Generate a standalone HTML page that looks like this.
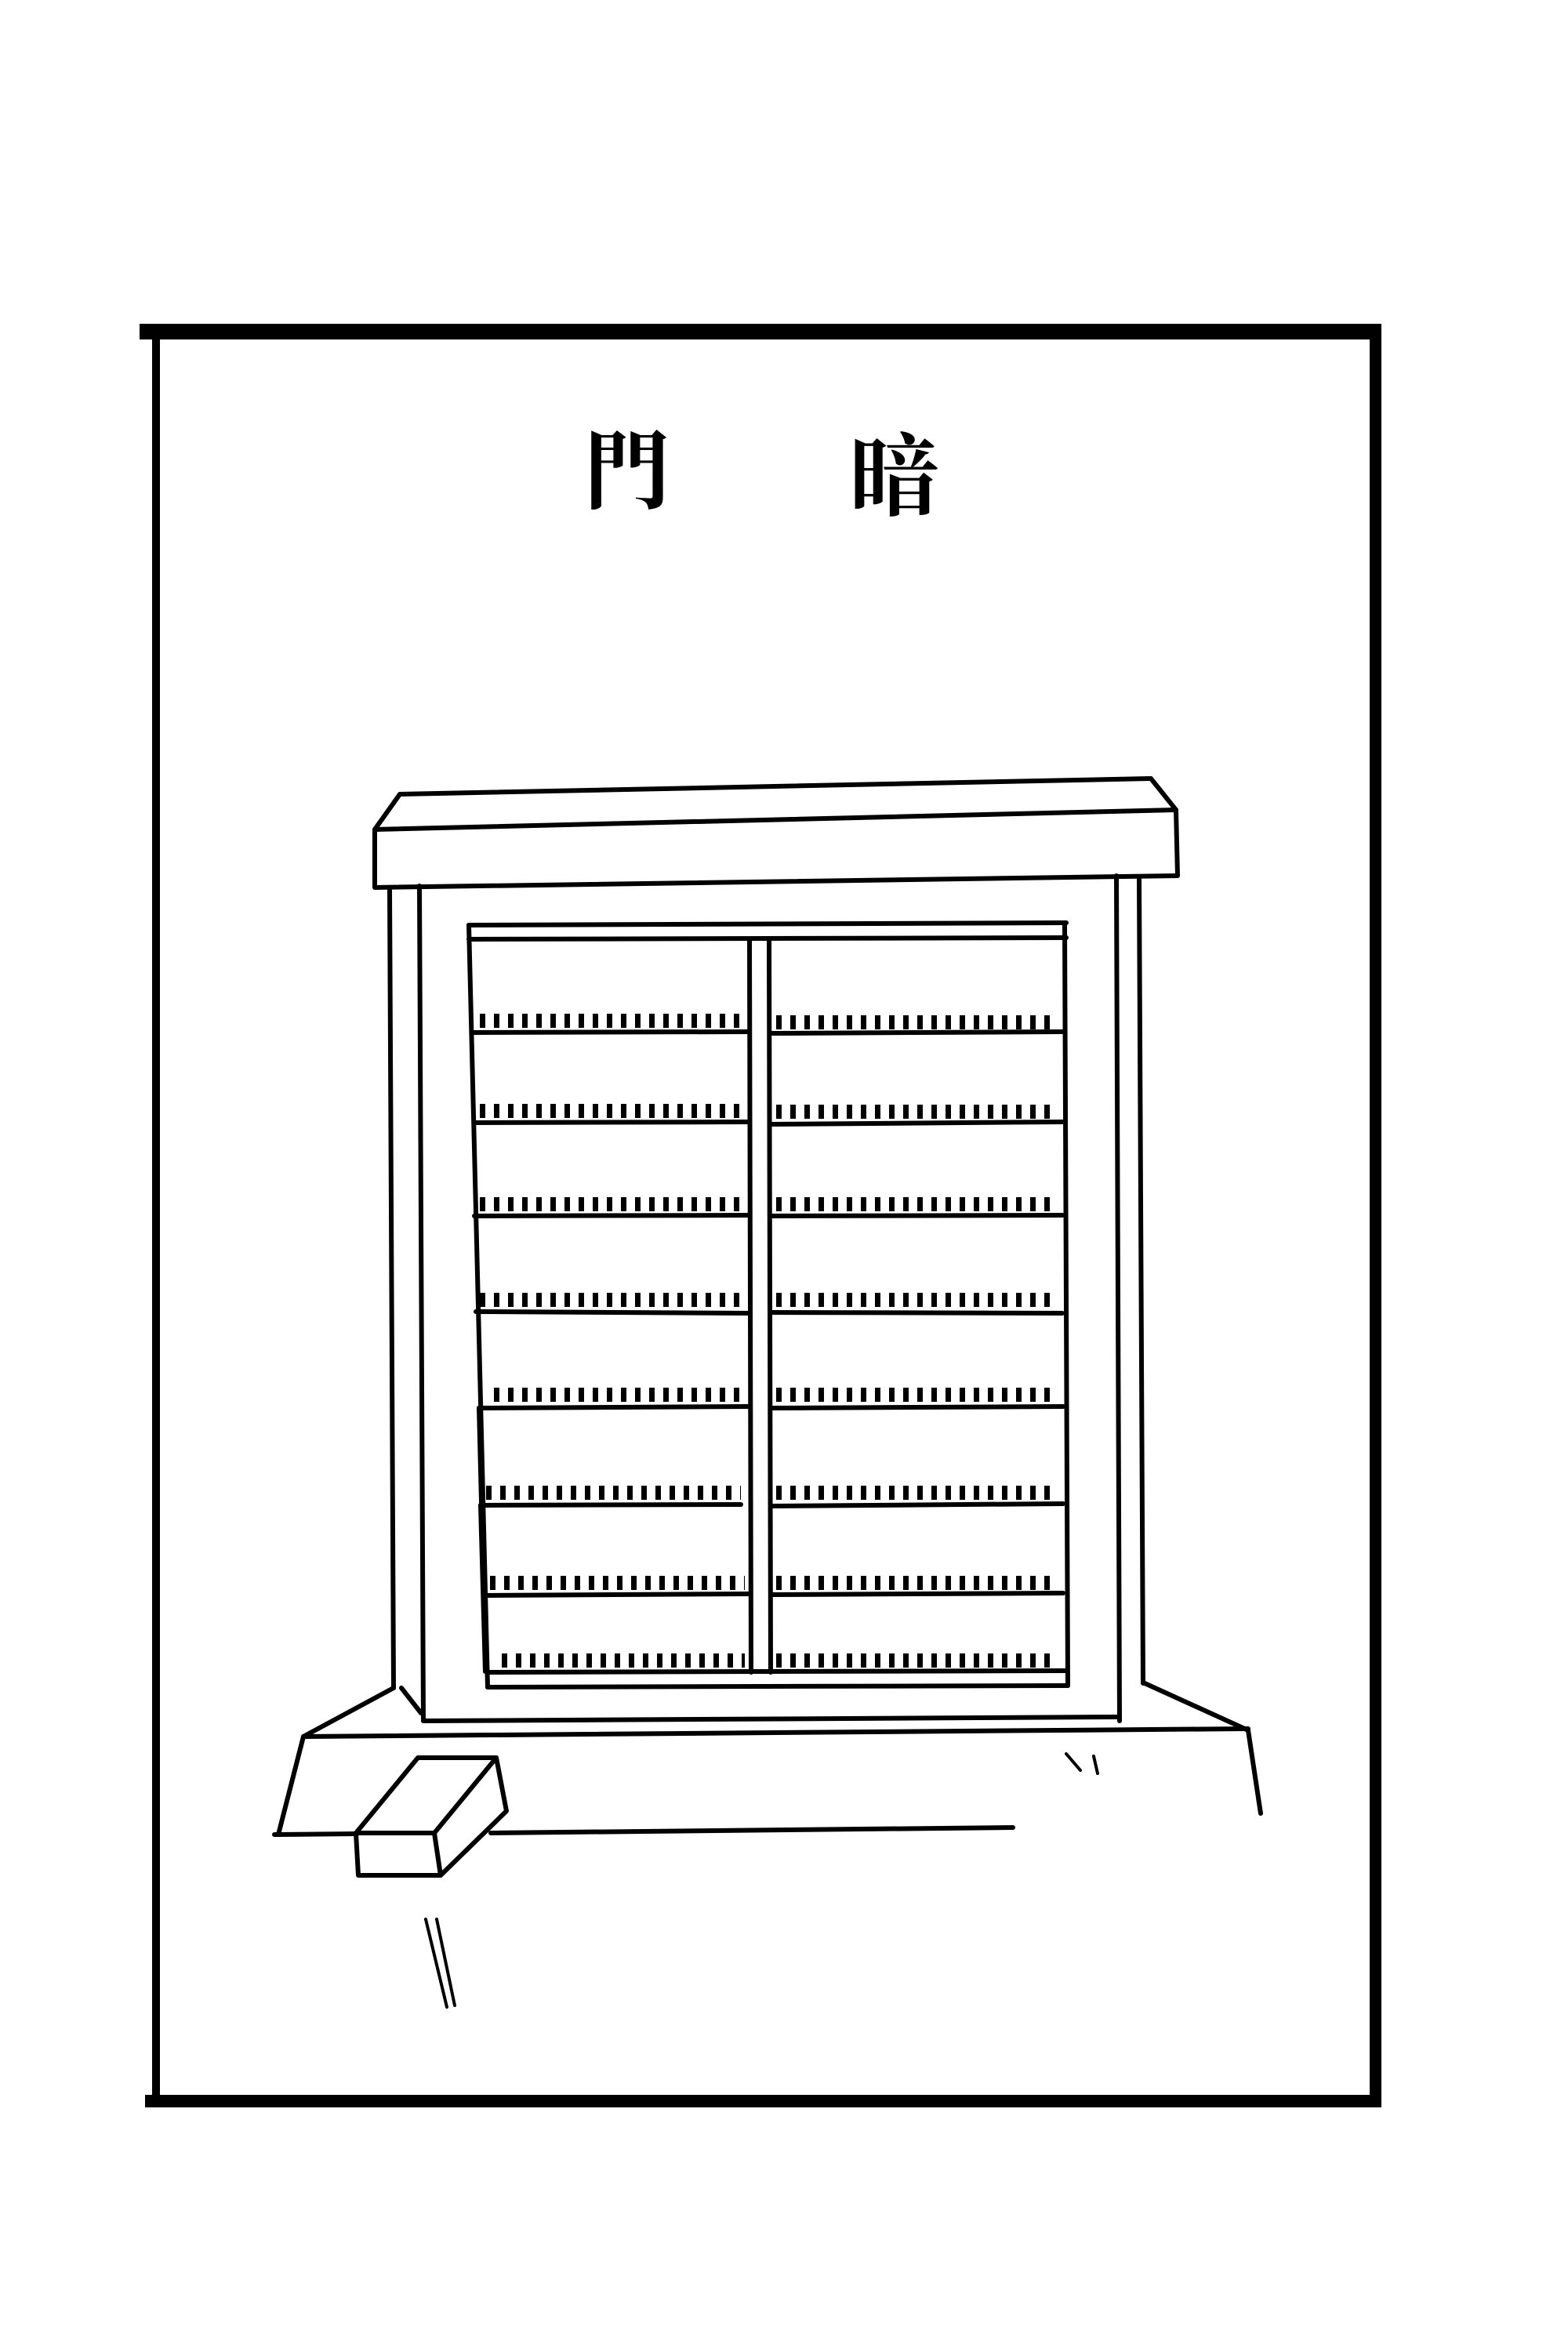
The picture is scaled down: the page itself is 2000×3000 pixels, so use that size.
<!DOCTYPE html>
<html><head><meta charset="utf-8"><style>
html,body{margin:0;padding:0;background:#fff;}
svg{display:block;}
</style></head><body>
<svg width="2000" height="3000" viewBox="0 0 2000 3000" xmlns="http://www.w3.org/2000/svg">
<rect width="2000" height="3000" fill="#fff"/>
<!-- page frame -->
<rect x="178" y="413" width="1584" height="20" fill="#000"/>
<rect x="194" y="413" width="10" height="2275" fill="#000"/>
<rect x="1747" y="413" width="15" height="2275" fill="#000"/>
<rect x="185" y="2672" width="1577" height="16" fill="#000"/>
<!-- title -->
<text x="800" y="640" font-family="'Noto Serif CJK SC','Noto Sans CJK SC',serif" font-size="110" font-weight="bold" text-anchor="middle" fill="#000">門</text>
<text x="1141" y="648" font-family="'Noto Serif CJK SC','Noto Sans CJK SC',serif" font-size="115" font-weight="bold" text-anchor="middle" fill="#000">暗</text>
<g fill="none" stroke="#000" stroke-width="6" stroke-linejoin="round" stroke-linecap="round">
<!-- cornice -->
<polyline points="478,1058 510,1013 1468,993 1500,1033"/>
<polygon points="478,1058 1500,1033 1502,1117 478,1132"/>
<!-- pillars -->
<line x1="497" y1="1134" x2="502" y2="2153"/>
<line x1="535" y1="1130" x2="540" y2="2195"/>
<line x1="1424" y1="1117" x2="1428" y2="2195"/>
<line x1="1453" y1="1120" x2="1458" y2="2147"/>
<!-- door frame bottom -->
<line x1="540" y1="2195" x2="1428" y2="2190"/>
<!-- panel -->
<line x1="598" y1="1180" x2="1360" y2="1177"/>
<line x1="598" y1="1198" x2="1360" y2="1196"/>
<line x1="598" y1="1180" x2="622" y2="2152"/>
<line x1="1358" y1="1178" x2="1362" y2="2150"/>
<line x1="622" y1="2152" x2="1362" y2="2150"/>
<line x1="622" y1="2133" x2="1360" y2="2131"/>
<line x1="956" y1="1198" x2="958" y2="2133"/>
<line x1="981" y1="1198" x2="983" y2="2133"/>
<!-- rows -->
<line x1="603" y1="1317" x2="956" y2="1316"/><line x1="983" y1="1318" x2="1355" y2="1316"/>
<line x1="605" y1="1432" x2="956" y2="1431"/><line x1="983" y1="1434" x2="1355" y2="1431"/>
<line x1="605" y1="1551" x2="956" y2="1550"/><line x1="983" y1="1551" x2="1355" y2="1550"/>
<line x1="607" y1="1673" x2="956" y2="1675"/><line x1="983" y1="1674" x2="1355" y2="1675"/>
<line x1="611" y1="1796" x2="956" y2="1794"/><line x1="983" y1="1796" x2="1356" y2="1794"/>
<line x1="613" y1="1920" x2="945" y2="1919"/><line x1="983" y1="1921" x2="1356" y2="1918"/>
<line x1="617" y1="2035" x2="956" y2="2033"/><line x1="983" y1="2034" x2="1356" y2="2032"/>
<line x1="611" y1="1796" x2="617" y2="2035"/>
<line x1="613" y1="1920" x2="619" y2="2132"/>
<!-- plinth -->
<line x1="502" y1="2153" x2="387" y2="2215"/>
<line x1="512" y1="2153" x2="537" y2="2185"/>
<line x1="1460" y1="2147" x2="1592" y2="2207"/>
<line x1="387" y1="2215" x2="1592" y2="2205"/>
<line x1="387" y1="2215" x2="355" y2="2340"/>
<line x1="1592" y1="2207" x2="1608" y2="2313"/>
<line x1="350" y1="2340" x2="454" y2="2339"/>
<line x1="626" y1="2338" x2="1292" y2="2331"/>
<!-- brick -->
<polygon points="533,2242 633,2242 554,2338 454,2338"/>
<polyline points="633,2242 646,2310 562,2392 457,2392 454,2338"/>
<line x1="554" y1="2338" x2="562" y2="2392"/>
<!-- small strokes -->
<line x1="543" y1="2448" x2="570" y2="2560" stroke-width="4"/>
<line x1="557" y1="2448" x2="580" y2="2558" stroke-width="4"/>
<path d="M1360 2237 L1378 2258 M1395 2240 L1400 2262" stroke-width="4"/>
</g>
<!-- hatch marks -->
<g fill="none" stroke="#000" stroke-width="18" stroke-dasharray="7 11">
<line x1="612" y1="1302" x2="950" y2="1302"/><line x1="990" y1="1304" x2="1350" y2="1304"/>
<line x1="612" y1="1417" x2="950" y2="1417"/><line x1="990" y1="1418" x2="1350" y2="1418"/>
<line x1="612" y1="1536" x2="950" y2="1536"/><line x1="990" y1="1536" x2="1350" y2="1536"/>
<line x1="612" y1="1658" x2="950" y2="1658"/><line x1="990" y1="1658" x2="1350" y2="1658"/>
<line x1="630" y1="1779" x2="950" y2="1779"/><line x1="990" y1="1779" x2="1350" y2="1779"/>
<line x1="620" y1="1904" x2="945" y2="1904"/><line x1="990" y1="1904" x2="1350" y2="1904"/>
<line x1="625" y1="2019" x2="950" y2="2019"/><line x1="990" y1="2019" x2="1350" y2="2019"/>
<line x1="640" y1="2118" x2="950" y2="2118"/><line x1="990" y1="2118" x2="1350" y2="2118"/>
</g>
</svg>
</body></html>
